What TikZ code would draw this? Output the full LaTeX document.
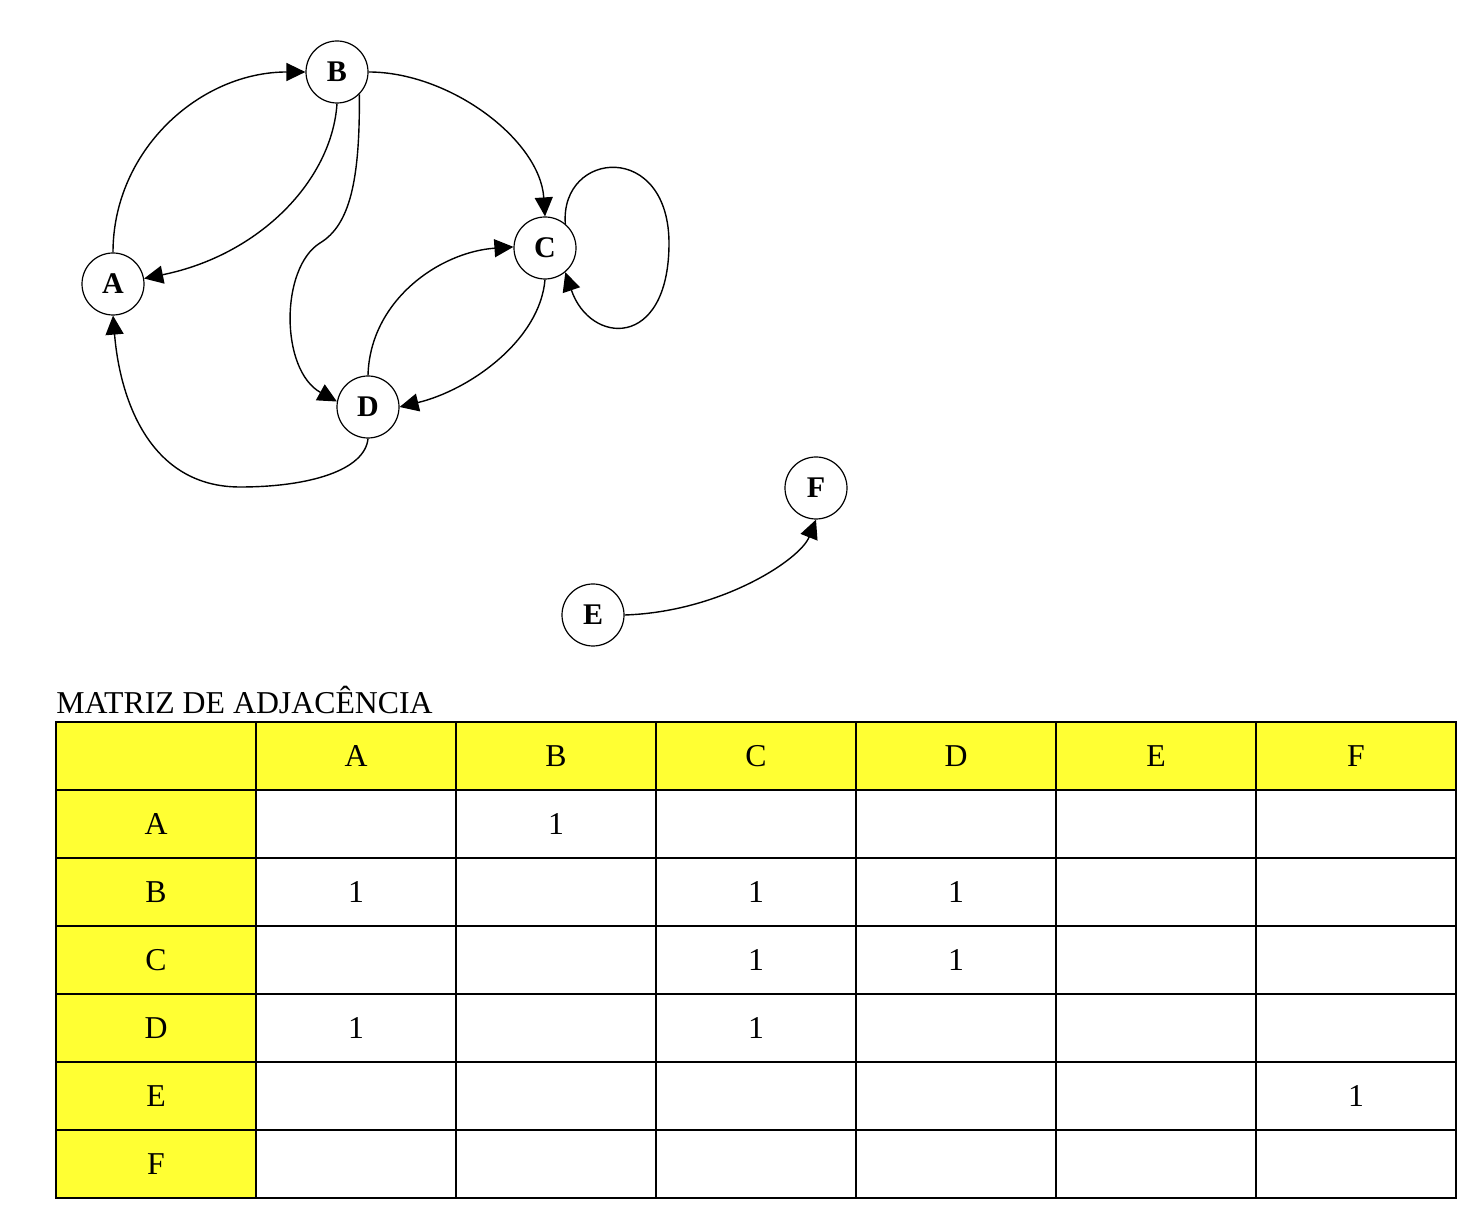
\documentclass[tikz,border=0pt]{standalone}
\usepackage{fontspec}
\setmainfont{Liberation Serif}
\definecolor{CellYellow}{RGB}{255,255,51}
\usetikzlibrary{arrows.meta, positioning}

\begin{document}
\begin{tikzpicture}[x=0.5pt, y=-0.5pt,
    vertex/.style={draw, circle, line width=0.6pt, minimum size=31pt, inner sep=0pt,
      font=\fontsize{15}{15}\selectfont\bfseries},
    edge/.style={line width=0.7pt, -{Triangle[length=9.5pt,width=9pt]}},
    cell/.style={draw, line width=1pt, minimum width=100pt, minimum height=34pt,
      inner sep=0pt, font=\fontsize{15.9}{18}\selectfont},
    head/.style={cell, fill=CellYellow}]
  \useasboundingbox (0,0) rectangle (1478,1218);

  % graph
  \node[vertex] (A) at (113,284) {A};
  \node[vertex] (B) at (337,72) {B};
  \node[vertex] (C) at (545,248) {C};
  \node[vertex] (D) at (368,407) {D};
  \node[vertex] (E) at (593,615) {E};
  \node[vertex] (F) at (816,488) {F};

  \draw[edge] (A.north) .. controls (113,150) and (200,72) .. (B.west);
  \draw[edge] (B.south) .. controls (332,180) and (260,255) .. (A.10);
  \draw[edge] (B.-45) .. controls (360,180) and (350,225) .. (320,243)
    .. controls (280,268) and (280,370) .. (D.170);
  \draw[edge] (B.east) .. controls (450,72) and (540,140) .. (C.north);
  \draw[edge] (C.50) .. controls (560,150) and (670,140) .. (669,245)
    .. controls (668,350) and (590,345) .. (C.-50);
  \draw[edge] (C.south) .. controls (540,340) and (470,390) .. (D.east);
  \draw[edge] (D.north) .. controls (370,300) and (440,252) .. (C.178);
  \draw[edge] (D.south) .. controls (365,470) and (310,487) .. (240,487)
    .. controls (150,487) and (120,400) .. (A.south);
  \draw[edge] (E.east) .. controls (720,612) and (800,560) .. (F.south);

  % adjacency matrix
  \node[anchor=base west, inner sep=0pt, font=\fontsize{15.9}{18}\selectfont]
    (title) at (56,714) {MATRIZ DE ADJACÊNCIA};
  \node[head] (corner) at (156,756) {};
  \foreach \name [count=\i] in {A,B,C,D,E,F} {
    \node[head] (h-\name) at (156+200*\i,756) {\name};
    \node[head] (r-\name) at (156,756+68*\i) {\name};
  }
  \foreach \r [count=\j] in {A,B,C,D,E,F}
    \foreach \c [count=\i] in {A,B,C,D,E,F}
      \node[cell] (c-\r-\c) at (156+200*\i,756+68*\j) {};
  \foreach \r/\c in {A/B, B/A, B/C, B/D, C/C, C/D, D/A, D/C, E/F}
    \node[font=\fontsize{15.9}{18}\selectfont] (one-\r-\c) at (c-\r-\c) {1};
\end{tikzpicture}
\end{document}
